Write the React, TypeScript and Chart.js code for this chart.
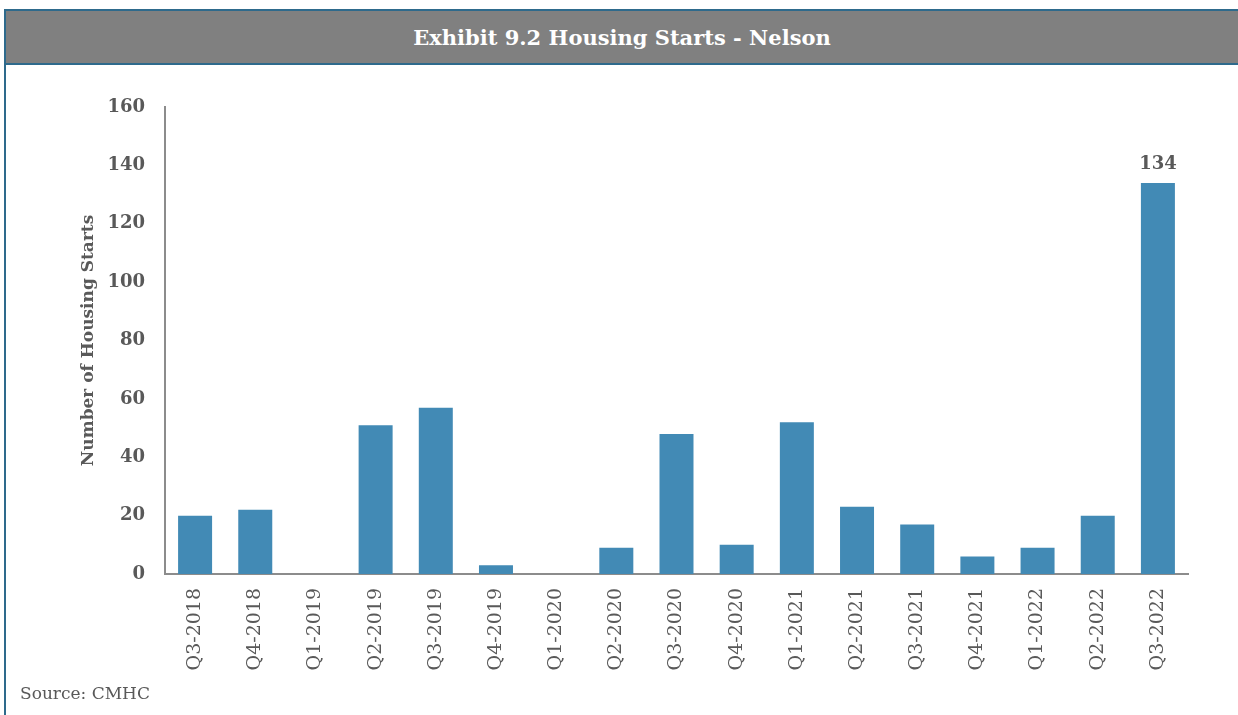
import React, { useEffect, useRef } from "react";
import { Chart, registerables } from "chart.js";

Chart.register(...registerables);

const categories = [
  "Q3-2018", "Q4-2018", "Q1-2019", "Q2-2019", "Q3-2019", "Q4-2019",
  "Q1-2020", "Q2-2020", "Q3-2020", "Q4-2020", "Q1-2021", "Q2-2021",
  "Q3-2021", "Q4-2021", "Q1-2022", "Q2-2022", "Q3-2022",
];
const housingStarts = [20, 22, 0, 51, 57, 3, 0, 9, 48, 10, 52, 23, 17, 6, 9, 20, 134];
const labelledIndexes = [16];
const yMax = 160;
const yStep = 20;

const titleText = "Exhibit 9.2 Housing Starts - Nelson";
const yAxisTitle = "Number of Housing Starts";
const sourceText = "Source: CMHC";

const SERIF = "'DejaVu Serif', 'Liberation Serif', serif";
const TEXT_GRAY = "#595959";
const BAR_COLOR = "#428AB5";
const FRAME_COLOR = "#2E6A8C";

const valueLabelPlugin = {
  id: "valueLabels",
  afterDatasetsDraw(chart: any) {
    const { ctx } = chart;
    const meta = chart.getDatasetMeta(0);
    ctx.save();
    ctx.font = `bold 18px ${SERIF}`;
    ctx.fillStyle = TEXT_GRAY;
    ctx.textAlign = "center";
    ctx.textBaseline = "bottom";
    labelledIndexes.forEach((i) => {
      const el = meta.data[i];
      if (!el) return;
      ctx.fillText(String(housingStarts[i]), el.x, el.y - 10);
    });
    ctx.restore();
  },
};

export default function App() {
  const canvasRef = useRef<HTMLCanvasElement | null>(null);

  useEffect(() => {
    const canvas = canvasRef.current;
    if (!canvas) return;
    const chart = new Chart(canvas, {
      type: "bar",
      data: {
        labels: categories,
        datasets: [
          {
            data: housingStarts,
            backgroundColor: BAR_COLOR,
            categoryPercentage: 1,
            barPercentage: 0.565,
          },
        ],
      },
      options: {
        animation: false,
        responsive: false,
        maintainAspectRatio: false,
        layout: { padding: { left: 0, top: 107, right: 50, bottom: 0 } },
        plugins: {
          legend: { display: false },
          tooltip: { enabled: false },
          title: { display: false },
        },
        scales: {
          x: {
            grid: { display: false, drawTicks: false },
            border: { display: true, color: "#8C8C8C", width: 2 },
            ticks: {
              color: TEXT_GRAY,
              font: { family: SERIF, size: 19 },
              minRotation: 90,
              maxRotation: 90,
              padding: 14,
              autoSkip: false,
            },
            afterFit: (s: any) => {
              s.height = 715 - 574;
            },
          },
          y: {
            min: 0,
            max: yMax,
            grid: { display: false, drawTicks: false },
            border: { display: true, color: "#8C8C8C", width: 2 },
            ticks: {
              stepSize: yStep,
              color: TEXT_GRAY,
              font: { family: SERIF, size: 18, weight: "bold" },
              padding: 20,
            },
            title: {
              display: true,
              text: yAxisTitle,
              color: TEXT_GRAY,
              font: { family: SERIF, size: 17, weight: "bold" },
              padding: { top: 78, bottom: 0 },
            },
            afterFit: (s: any) => {
              s.width = 165;
            },
          },
        },
      },
      plugins: [valueLabelPlugin],
    });
    return () => chart.destroy();
  }, []);

  return (
    <div
      style={{
        position: "fixed",
        left: 0,
        top: 0,
        width: 1238,
        height: 715,
        overflow: "hidden",
        background: "#fff",
      }}
    >
      <div
        style={{
          position: "absolute",
          left: 4,
          top: 9,
          width: 1260,
          height: 720,
          borderTop: `2px solid ${FRAME_COLOR}`,
          borderLeft: `2px solid ${FRAME_COLOR}`,
          boxSizing: "border-box",
        }}
      />
      <div
        style={{
          position: "absolute",
          left: 6,
          top: 11,
          width: 1232,
          height: 52,
          background: "#808080",
          borderBottom: `2px solid ${FRAME_COLOR}`,
          color: "#fff",
          fontFamily: SERIF,
          fontWeight: "bold",
          fontSize: 21,
          lineHeight: "54px",
          textAlign: "center",
        }}
      >
        {titleText}
      </div>
      <canvas
        ref={canvasRef}
        width={1238}
        height={715}
        style={{ position: "absolute", left: 0, top: 0, width: 1238, height: 715 }}
      />
      <div
        style={{
          position: "absolute",
          left: 20,
          top: 681,
          fontFamily: SERIF,
          fontSize: 17,
          color: TEXT_GRAY,
          lineHeight: "24px",
        }}
      >
        {sourceText}
      </div>
    </div>
  );
}
